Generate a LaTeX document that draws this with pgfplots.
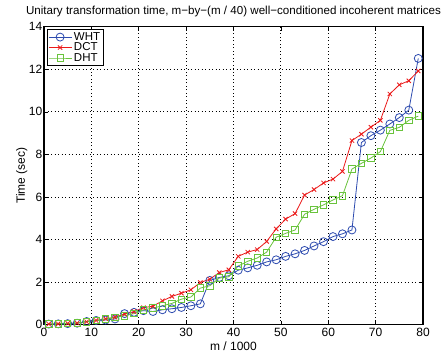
\documentclass[border=0pt]{standalone}
\usepackage{fontspec}
\setmainfont{Liberation Sans}
\usepackage{pgfplots}
\usepackage{pgfplotstable}
\pgfplotsset{compat=1.18}
\definecolor{mblue}{RGB}{45,75,175}
\definecolor{mred}{RGB}{235,25,25}
\definecolor{mgreen}{RGB}{105,195,60}
\pgfplotstableread{
x   wht    dct    dht
1   0.03   0.03   0.03
3   0.04   0.04   0.04
5   0.05   0.06   0.06
7   0.07   0.08   0.08
9   0.15   0.14   0.14
11  0.20   0.20   0.20
13  0.22   0.28   0.27
15  0.27   0.35   0.33
17  0.52   0.50   0.42
19  0.58   0.62   0.52
21  0.66   0.80   0.70
23  0.62   0.87   0.78
25  0.70   1.12   0.89
27  0.75   1.33   1.00
29  0.81   1.48   1.20
31  0.89   1.64   1.30
33  0.98   1.98   1.72
35  2.08   2.14   1.83
37  2.22   2.45   2.19
39  2.30   2.58   2.25
41  2.56   3.21   2.76
43  2.67   3.41   2.98
45  2.79   3.53   3.13
47  2.95   3.91   3.41
49  3.05   4.50   4.11
51  3.21   4.96   4.29
53  3.33   5.22   4.45
55  3.49   6.09   5.19
57  3.70   6.35   5.42
59  3.90   6.66   5.63
61  4.14   6.84   5.86
63  4.27   7.20   6.06
65  4.45   8.65   7.31
67  8.56   8.95   7.58
69  8.88   9.28   7.83
71  9.14   9.60   8.13
73  9.43   10.84  9.13
75  9.73   11.27  9.27
77  10.08  11.46  9.60
79  12.51  11.92  9.80
}\datatable
\begin{document}
\begin{tikzpicture}[font=\fontsize{12bp}{14bp}\selectfont]
\begin{axis}[
  name=ax,
  scale only axis,
  width=379bp, height=298bp,
  xmin=0, xmax=80, ymin=0, ymax=14,
  xtick={0,10,...,80}, ytick={0,2,...,14},
  /pgf/number format/assume math mode=true,
  tick align=inside,
  major tick length=4bp,
  tick style={black, line width=0.6bp},
  axis line style={black, line width=1.1bp},
  grid=major,
  grid style={black, line width=0.8bp, dash pattern=on 0.9bp off 2.6bp},
  title={Unitary transformation time, m−by−(m / 40) well−conditioned incoherent matrices},
  title style={at={(0.5,1)}, anchor=south, inner sep=0pt, yshift=4bp, font=\fontsize{11.6bp}{13.6bp}\selectfont},
  xlabel={m / 1000},
  ylabel={Time (sec)},
  xticklabel style={inner sep=1.5bp, yshift=-2bp},
  yticklabel style={inner sep=1.5bp},
  xlabel style={inner sep=0pt, yshift=-3bp},
  ylabel style={inner sep=0pt, yshift=0bp},
  legend cell align=left,
  legend style={at={(0,1)}, anchor=north west, xshift=3bp, yshift=-2.5bp,
    draw=black, line width=0.8bp, fill=white, inner sep=0.8bp, row sep=-3bp,
    font=\fontsize{11.5bp}{13.5bp}\selectfont},
  legend image code/.code={\draw[mark repeat=2, mark phase=2, #1] plot coordinates {(0bp,0bp) (11.5bp,0bp) (23bp,0bp)};},
  every axis plot/.append style={line width=0.8bp},
]
\addplot[mblue, mark=o, mark size=4bp, mark options={line width=0.8bp}] table[x=x, y=wht] {\datatable};
\addlegendentry{WHT}
\addplot[mred, mark=x, mark size=3bp, mark options={line width=0.8bp}] table[x=x, y=dct] {\datatable};
\addlegendentry{DCT}
\addplot[mgreen, mark=square, mark size=3.2bp, mark options={line width=0.8bp}] table[x=x, y=dht] {\datatable};
\addlegendentry{DHT}
\end{axis}
\pgfresetboundingbox
\path[use as bounding box] ([xshift=-44bp,yshift=-30bp]ax.south west) rectangle ([xshift=23bp,yshift=26.7bp]ax.north east);
\end{tikzpicture}
\end{document}
